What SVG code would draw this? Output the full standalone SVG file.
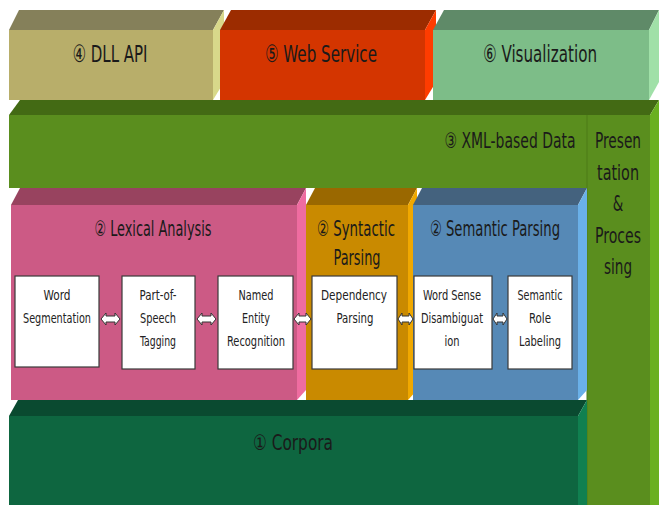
<svg xmlns="http://www.w3.org/2000/svg" width="659" height="505" viewBox="0 0 659 505">
  <style>
    .t { font-family: "Liberation Sans Narrow", "DejaVu Sans Condensed", "Liberation Sans", sans-serif; fill: #1a1a1a; text-anchor: middle; }
    .big { font-size: 17px; }
    .mid { font-size: 15px; }
    .small { font-size: 14.5px; fill: #222; }
    .box { fill: #ffffff; stroke: #3a3a3a; stroke-width: 1.2; }
    .arr { fill: #ffffff; stroke: #333; stroke-width: 1; }
  </style>
  <rect width="659" height="505" fill="#ffffff"/>

  <!-- green data band + presentation column (drawn first, sits behind) -->
  <g id="xml-data">
    <polygon points="9,115 20,100 659,100 650,115" fill="#436a14"/>
    <rect x="9" y="115" width="641" height="73" fill="#5a8e1e"/>
    <text class="t mid" transform="translate(510,148) scale(1,1.42)" textLength="131" lengthAdjust="spacingAndGlyphs">③ XML-based Data</text>
  </g>
  <g id="presentation">
    <rect x="587" y="115" width="63" height="390" fill="#5a8e1e"/>
    <polygon points="650,115 659,100 659,505 650,505" fill="#6ab020"/>
    <line x1="587" y1="115" x2="587" y2="505" stroke="#4c7a16" stroke-width="1"/>
    <text class="t mid" transform="translate(618,148) scale(1,1.42)" textLength="46" lengthAdjust="spacingAndGlyphs">Presen</text>
    <text class="t mid" transform="translate(618,180) scale(1,1.42)" textLength="42" lengthAdjust="spacingAndGlyphs">tation</text>
    <text class="t mid" transform="translate(618,211) scale(1,1.42)">&amp;</text>
    <text class="t mid" transform="translate(618,243) scale(1,1.42)" textLength="46" lengthAdjust="spacingAndGlyphs">Proces</text>
    <text class="t mid" transform="translate(618,274) scale(1,1.42)" textLength="28" lengthAdjust="spacingAndGlyphs">sing</text>
  </g>

  <!-- top row -->
  <g id="dll-api">
    <polygon points="9,30 19,10 224,10 213,30" fill="#85805a"/>
    <polygon points="213,30 224,10 224,82 213,100" fill="#d8d88a"/>
    <rect x="9" y="30" width="204" height="70" fill="#b8ae6a"/>
    <text class="t big" transform="translate(110,62) scale(1,1.4)" textLength="75" lengthAdjust="spacingAndGlyphs">④ DLL API</text>
  </g>
  <g id="web-service">
    <polygon points="220,30 231,10 436,10 425,30" fill="#9c2c00"/>
    <polygon points="425,30 436,10 436,82 425,100" fill="#ff3c00"/>
    <rect x="220" y="30" width="205" height="70" fill="#d43500"/>
    <text class="t big" transform="translate(321,62) scale(1,1.4)" textLength="112" lengthAdjust="spacingAndGlyphs">⑤ Web Service</text>
  </g>
  <g id="visualization">
    <polygon points="433,30 444,10 659,10 649,30" fill="#5f8a68"/>
    <polygon points="649,30 659,10 659,82 649,100" fill="#a0e0a8"/>
    <rect x="433" y="30" width="216" height="70" fill="#7dbd88"/>
    <text class="t big" transform="translate(540,62) scale(1,1.4)" textLength="114" lengthAdjust="spacingAndGlyphs">⑥ Visualization</text>
  </g>

  <!-- middle row -->
  <g id="lexical">
    <polygon points="11,205 20,188 306,188 297,205" fill="#98435f"/>
    <polygon points="297,205 306,188 306,390 297,400" fill="#ef6ca0"/>
    <rect x="11" y="205" width="286" height="195" fill="#cc5a85"/>
    <text class="t mid" transform="translate(153,236) scale(1,1.42)" textLength="117" lengthAdjust="spacingAndGlyphs">② Lexical Analysis</text>
  </g>
  <g id="syntactic">
    <polygon points="306,205 315,188 417,188 408,205" fill="#9a6800"/>
    <polygon points="408,205 417,188 417,390 408,400" fill="#f0a800"/>
    <rect x="306" y="205" width="102" height="195" fill="#c98a00"/>
    <text class="t mid" transform="translate(356,236) scale(1,1.42)" textLength="78" lengthAdjust="spacingAndGlyphs">② Syntactic</text>
    <text class="t mid" transform="translate(357,265) scale(1,1.42)" textLength="47" lengthAdjust="spacingAndGlyphs">Parsing</text>
  </g>
  <g id="semantic">
    <polygon points="413,205 422,188 587,188 578,205" fill="#44627e"/>
    <polygon points="578,205 587,188 587,390 578,400" fill="#6ab0e8"/>
    <rect x="413" y="205" width="165" height="195" fill="#5689b6"/>
    <text class="t mid" transform="translate(495,236) scale(1,1.42)" textLength="130" lengthAdjust="spacingAndGlyphs">② Semantic Parsing</text>
  </g>

  <!-- bottom row -->
  <g id="corpora">
    <polygon points="9,416 18,400 587,400 578,416" fill="#0a4a30"/>
    <polygon points="578,416 587,400 587,505 578,505" fill="#108050"/>
    <rect x="9" y="416" width="569" height="89" fill="#0e6640"/>
    <text class="t mid" transform="translate(293,450) scale(1,1.42)" textLength="80" lengthAdjust="spacingAndGlyphs">① Corpora</text>
  </g>

  <!-- processing modules -->
  <g id="word-segmentation">
    <rect class="box" x="15" y="276" width="84" height="91"/>
    <text class="t small" x="57" y="300" textLength="27" lengthAdjust="spacingAndGlyphs">Word</text>
    <text class="t small" x="57" y="323" textLength="68" lengthAdjust="spacingAndGlyphs">Segmentation</text>
  </g>
  <g id="pos-tagging">
    <rect class="box" x="122" y="276" width="73" height="93"/>
    <text class="t small" x="158" y="300" textLength="37" lengthAdjust="spacingAndGlyphs">Part-of-</text>
    <text class="t small" x="158" y="323" textLength="36" lengthAdjust="spacingAndGlyphs">Speech</text>
    <text class="t small" x="158" y="346" textLength="36" lengthAdjust="spacingAndGlyphs">Tagging</text>
  </g>
  <g id="ner">
    <rect class="box" x="218" y="276" width="75" height="93"/>
    <text class="t small" x="256" y="300" textLength="35" lengthAdjust="spacingAndGlyphs">Named</text>
    <text class="t small" x="256" y="323" textLength="28" lengthAdjust="spacingAndGlyphs">Entity</text>
    <text class="t small" x="256" y="346" textLength="58" lengthAdjust="spacingAndGlyphs">Recognition</text>
  </g>
  <g id="dependency-parsing">
    <rect class="box" x="312" y="276" width="85" height="93"/>
    <text class="t small" x="354" y="300" textLength="66" lengthAdjust="spacingAndGlyphs">Dependency</text>
    <text class="t small" x="355" y="323" textLength="37" lengthAdjust="spacingAndGlyphs">Parsing</text>
  </g>
  <g id="wsd">
    <rect class="box" x="414" y="276" width="78" height="93"/>
    <text class="t small" x="452" y="300" textLength="58" lengthAdjust="spacingAndGlyphs">Word Sense</text>
    <text class="t small" x="452" y="323" textLength="62" lengthAdjust="spacingAndGlyphs">Disambiguat</text>
    <text class="t small" x="452" y="346" textLength="15" lengthAdjust="spacingAndGlyphs">ion</text>
  </g>
  <g id="srl">
    <rect class="box" x="508" y="276" width="64" height="93"/>
    <text class="t small" x="540" y="300" textLength="45" lengthAdjust="spacingAndGlyphs">Semantic</text>
    <text class="t small" x="540" y="323" textLength="22" lengthAdjust="spacingAndGlyphs">Role</text>
    <text class="t small" x="540" y="346" textLength="42" lengthAdjust="spacingAndGlyphs">Labeling</text>
  </g>

  <!-- two-way block arrows between modules -->
  <g id="connectors">
    <path class="arr" d="M101,319 L106,313 L106,316 L115,316 L115,313 L120,319 L115,325 L115,322 L106,322 L106,325 Z"/>
    <path class="arr" d="M197,319 L202,313 L202,316 L211,316 L211,313 L216,319 L211,325 L211,322 L202,322 L202,325 Z"/>
    <path class="arr" d="M294,319 L299,313 L299,316 L306,316 L306,313 L311,319 L306,325 L306,322 L299,322 L299,325 Z"/>
    <path class="arr" d="M398,319 L402,313 L402,316 L409,316 L409,313 L413,319 L409,325 L409,322 L402,322 L402,325 Z"/>
    <path class="arr" d="M493,319 L497,313 L497,316 L503,316 L503,313 L507,319 L503,325 L503,322 L497,322 L497,325 Z"/>
  </g>
</svg>
